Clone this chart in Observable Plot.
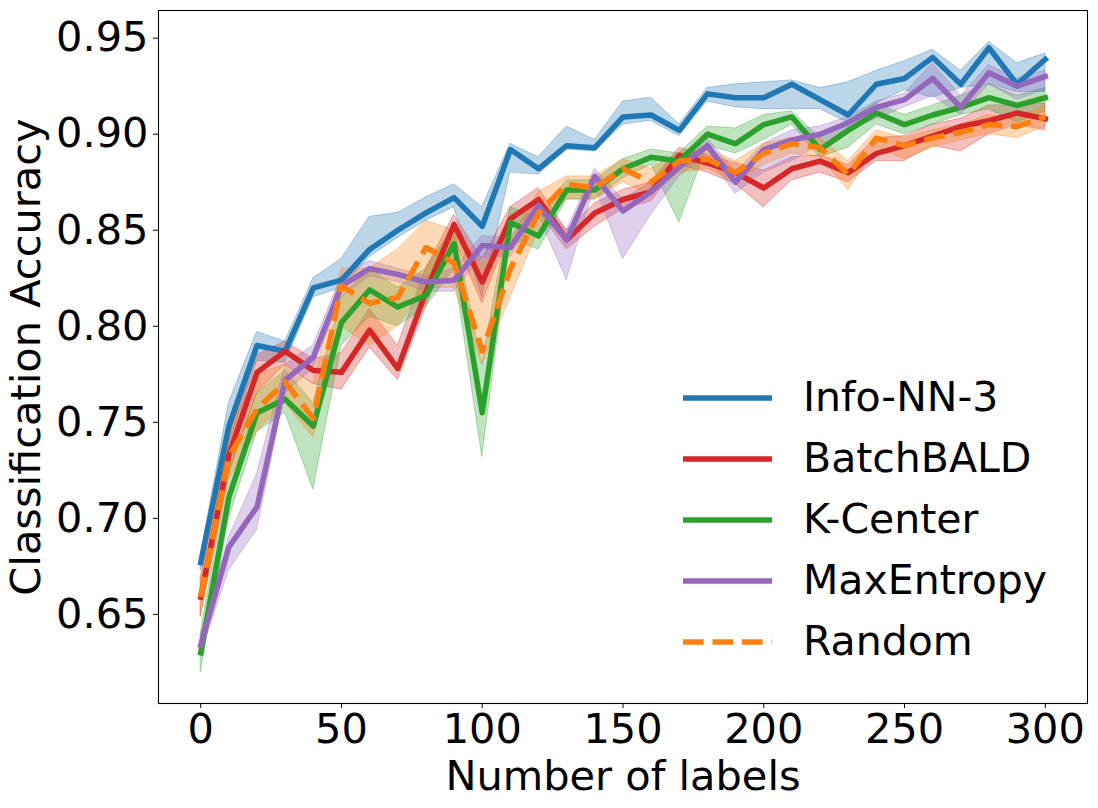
<!DOCTYPE html>
<html><head><meta charset="utf-8">
<script src="https://cdn.jsdelivr.net/npm/d3@7"></script>
<script src="https://cdn.jsdelivr.net/npm/@observablehq/plot@0.6"></script>
<style>
body{margin:0;background:#fff;font-family:"DejaVu Sans",sans-serif;}
#wrap{position:relative;width:1098px;height:808px;overflow:hidden;}
#legend{position:absolute;left:683px;top:367px;pointer-events:none;}
.row{display:flex;align-items:center;height:61px;}
.row span{font-size:41px;line-height:1;margin-left:31px;color:#000;white-space:nowrap;}
</style></head><body><div id="wrap"></div>
<script>
const labels = [0,10,20,30,40,50,60,70,80,90,100,110,120,130,140,150,160,170,180,190,200,210,220,230,240,250,260,270,280,290,300];
const seriesNames = ["Info-NN-3","BatchBALD","K-Center","MaxEntropy","Random"];
const seriesColors = ["#1f77b4","#d62728","#2ca02c","#9467bd","#ff7f0e"];
const xTicks = [0,50,100,150,200,250,300];
const yTicks = [0.65,0.70,0.75,0.80,0.85,0.90,0.95];

const infoMean = [0.677,0.748,0.790,0.787,0.820,0.824,0.840,0.850,0.859,0.867,0.852,0.892,0.882,0.894,0.893,0.909,0.910,0.902,0.921,0.919,0.919,0.926,0.918,0.910,0.926,0.929,0.940,0.926,0.945,0.926,0.939];
const infoLo   = [0.673,0.738,0.782,0.781,0.815,0.820,0.836,0.846,0.855,0.862,0.815,0.880,0.879,0.892,0.891,0.905,0.907,0.899,0.917,0.914,0.913,0.913,0.913,0.906,0.916,0.923,0.919,0.924,0.926,0.922,0.922];
const infoHi   = [0.681,0.760,0.797,0.792,0.825,0.835,0.857,0.859,0.867,0.874,0.862,0.895,0.888,0.904,0.897,0.917,0.919,0.905,0.924,0.926,0.927,0.928,0.924,0.927,0.933,0.938,0.944,0.933,0.948,0.937,0.942];

const bbaldMean = [0.659,0.733,0.776,0.787,0.777,0.776,0.798,0.778,0.818,0.853,0.823,0.856,0.866,0.845,0.859,0.866,0.870,0.889,0.885,0.880,0.872,0.882,0.886,0.880,0.890,0.894,0.899,0.904,0.907,0.911,0.908];
const bbaldLo   = [0.649,0.723,0.765,0.780,0.770,0.767,0.789,0.772,0.810,0.846,0.812,0.850,0.860,0.840,0.852,0.861,0.865,0.884,0.880,0.874,0.862,0.876,0.880,0.875,0.886,0.886,0.894,0.891,0.900,0.905,0.902];
const bbaldHi   = [0.669,0.743,0.785,0.792,0.783,0.786,0.809,0.790,0.830,0.858,0.835,0.862,0.872,0.850,0.864,0.871,0.875,0.893,0.889,0.885,0.881,0.888,0.889,0.884,0.898,0.899,0.905,0.908,0.915,0.915,0.916];

const kcMean = [0.630,0.711,0.755,0.762,0.748,0.802,0.819,0.810,0.816,0.843,0.755,0.854,0.847,0.871,0.871,0.882,0.888,0.886,0.900,0.895,0.905,0.909,0.892,0.902,0.911,0.905,0.910,0.914,0.919,0.915,0.919];
const kcLo   = [0.620,0.700,0.745,0.755,0.715,0.790,0.805,0.800,0.810,0.830,0.732,0.845,0.840,0.866,0.866,0.877,0.884,0.854,0.894,0.890,0.897,0.905,0.888,0.893,0.905,0.900,0.905,0.910,0.913,0.906,0.912];
const kcHi   = [0.640,0.725,0.765,0.777,0.760,0.815,0.830,0.820,0.830,0.852,0.780,0.862,0.856,0.876,0.876,0.887,0.892,0.890,0.904,0.903,0.910,0.912,0.898,0.907,0.916,0.910,0.915,0.920,0.926,0.920,0.924];

const meMean = [0.634,0.685,0.706,0.772,0.784,0.821,0.830,0.827,0.823,0.824,0.842,0.841,0.863,0.845,0.878,0.860,0.870,0.883,0.894,0.875,0.892,0.897,0.900,0.906,0.914,0.918,0.929,0.914,0.932,0.925,0.930];
const meLo   = [0.629,0.673,0.694,0.765,0.778,0.815,0.826,0.823,0.818,0.818,0.836,0.836,0.858,0.824,0.873,0.835,0.858,0.878,0.889,0.869,0.880,0.886,0.894,0.902,0.908,0.914,0.920,0.910,0.926,0.918,0.923];
const meHi   = [0.639,0.690,0.723,0.780,0.790,0.826,0.834,0.830,0.826,0.830,0.847,0.846,0.867,0.850,0.882,0.866,0.875,0.888,0.898,0.880,0.895,0.902,0.904,0.909,0.917,0.921,0.937,0.920,0.936,0.929,0.933];

const rndMean = [0.659,0.732,0.757,0.771,0.752,0.821,0.812,0.815,0.841,0.833,0.787,0.830,0.859,0.874,0.872,0.882,0.875,0.886,0.887,0.880,0.890,0.895,0.893,0.879,0.898,0.894,0.898,0.901,0.905,0.904,0.909];
const rndLo   = [0.649,0.720,0.745,0.760,0.742,0.800,0.790,0.800,0.820,0.820,0.780,0.815,0.850,0.866,0.866,0.875,0.868,0.880,0.882,0.875,0.884,0.890,0.888,0.871,0.893,0.887,0.893,0.897,0.900,0.898,0.904];
const rndHi   = [0.669,0.745,0.775,0.780,0.770,0.830,0.830,0.840,0.855,0.850,0.832,0.845,0.870,0.878,0.878,0.887,0.882,0.890,0.892,0.886,0.895,0.898,0.898,0.886,0.902,0.898,0.902,0.905,0.910,0.908,0.915];

const means = [infoMean, bbaldMean, kcMean, meMean, rndMean];
const los = [infoLo, bbaldLo, kcLo, meLo, rndLo];
const his = [infoHi, bbaldHi, kcHi, meHi, rndHi];

const series = seriesNames.map((name, i) => ({
  name, color: seriesColors[i], dashed: name === "Random",
  rows: labels.map((x, j) => ({x, y: means[i][j], lo: los[i][j], hi: his[i][j]}))
}));

const bands = series.map(s => Plot.areaY(s.rows, {
  x: "x", y1: "lo", y2: "hi", fill: s.color, fillOpacity: 0.3,
  stroke: s.color, strokeOpacity: 0.35, strokeWidth: 1
}));
const lines = series.map(s => Plot.lineY(s.rows, {
  x: "x", y: "y", stroke: s.color, strokeWidth: 5.5, strokeLinejoin: "round",
  strokeLinecap: s.dashed ? "butt" : "square",
  strokeDasharray: s.dashed ? "20.6 8.9" : null
}));

const chart = Plot.plot({
  width: 1098, height: 808,
  marginLeft: 158, marginRight: 11, marginTop: 10, marginBottom: 105,
  style: {fontFamily: "DejaVu Sans", fontSize: "41.5px", color: "#000", background: "#fff"},
  x: {domain: [-15, 315]},
  y: {domain: [0.6036, 0.9644]},
  marks: [
    ...bands,
    ...lines,
    Plot.frame({stroke: "#000", strokeWidth: 1.1}),
    Plot.axisX({ticks: xTicks, tickSize: 5, tickPadding: 5, tickFormat: d3.format("d"),
      label: "Number of labels", labelAnchor: "center", labelArrow: "none", labelOffset: 86}),
    Plot.axisY({ticks: yTicks, tickSize: 5, tickPadding: 5, tickFormat: d3.format(".2f"),
      label: "Classification Accuracy", labelAnchor: "center", labelArrow: "none", labelOffset: 148})
  ]
});

const wrap = document.getElementById("wrap");
wrap.appendChild(chart);

const legend = document.createElement("div");
legend.id = "legend";
series.forEach(s => {
  const row = document.createElement("div");
  row.className = "row";
  const ns = "http://www.w3.org/2000/svg";
  const svg = document.createElementNS(ns, "svg");
  svg.setAttribute("width", "89"); svg.setAttribute("height", "12");
  const ln = document.createElementNS(ns, "line");
  ln.setAttribute("x1", "0"); ln.setAttribute("x2", "89");
  ln.setAttribute("y1", "6"); ln.setAttribute("y2", "6");
  ln.setAttribute("stroke", s.color); ln.setAttribute("stroke-width", "5.5");
  if (s.dashed) ln.setAttribute("stroke-dasharray", "20.6 8.9");
  svg.appendChild(ln);
  const t = document.createElement("span");
  t.textContent = s.name;
  row.appendChild(svg); row.appendChild(t);
  legend.appendChild(row);
});
wrap.appendChild(legend);
</script></body></html>
